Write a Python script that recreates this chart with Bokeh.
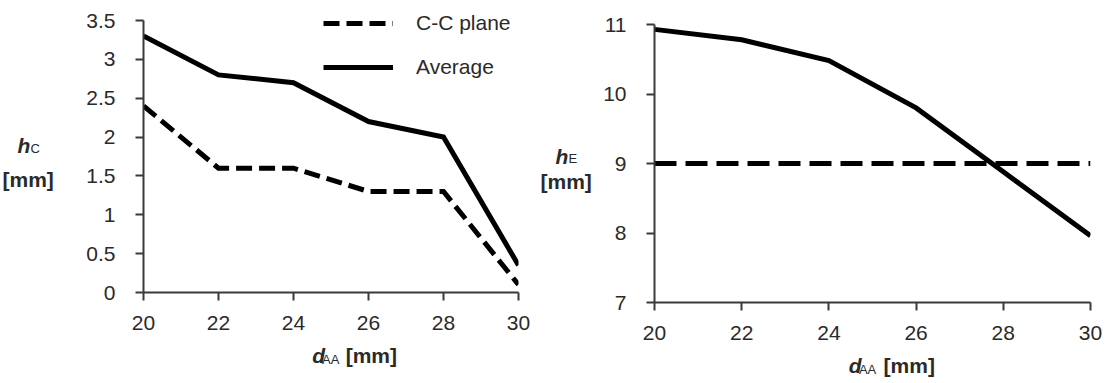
from bokeh.plotting import figure
from bokeh.layouts import row, column
from bokeh.models import Range1d, FixedTicker, Label, Legend, LegendItem
from bokeh.embed import file_html
from bokeh.resources import INLINE

# ---------------- data ----------------
d_aa = [20, 22, 24, 26, 28, 30]
hc_cc_plane = [2.4, 1.6, 1.6, 1.3, 1.3, 0.1]
hc_average = [3.3, 2.8, 2.7, 2.2, 2.0, 0.35]
he_values = [10.93, 10.78, 10.48, 9.8, 8.88, 7.96]
he_limit_x = [20, 30]
he_limit_y = [9, 9]

x_ticks = [20, 22, 24, 26, 28, 30]
x_tick_labels = ["20", "22", "24", "26", "28", "30"]
hc_ticks = [0, 0.5, 1, 1.5, 2, 2.5, 3, 3.5]
hc_tick_labels = ["0", "0.5", "1", "1.5", "2", "2.5", "3", "3.5"]
he_ticks = [7, 8, 9, 10, 11]
he_tick_labels = ["7", "8", "9", "10", "11"]

FONT = "Liberation Sans"
AXIS_COLOR = "#3a3a3a"
TEXT_COLOR = "#2a2a2a"
H = 383
DY = 7  # baseline correction for labels


def style(p, yt, ytl, ybounds):
    p.xgrid.visible = False
    p.ygrid.visible = False
    p.outline_line_color = None
    p.background_fill_color = "white"
    p.border_fill_color = "white"
    for ax, ticks, labels in ((p.xaxis[0], x_ticks, x_tick_labels), (p.yaxis[0], yt, ytl)):
        ax.ticker = FixedTicker(ticks=ticks)
        ax.major_label_overrides = {float(t): l for t, l in zip(ticks, labels)}
        ax.axis_line_color = AXIS_COLOR
        ax.axis_line_width = 2
        ax.major_tick_line_color = AXIS_COLOR
        ax.major_tick_line_width = 2
        ax.major_tick_in = 0
        ax.major_tick_out = 8
        ax.minor_tick_line_color = None
        ax.major_label_text_font = FONT
        ax.major_label_text_font_size = "21px"
        ax.major_label_text_color = TEXT_COLOR
        ax.axis_label = None
    p.yaxis[0].bounds = ybounds
    p.xaxis[0].major_label_standoff = 15
    p.yaxis[0].major_label_standoff = 20


def text_fig(w, h):
    f = figure(width=w, height=h, x_range=Range1d(0, w), y_range=Range1d(0, h),
               x_axis_type=None, y_axis_type=None, min_border=0,
               output_backend="svg", toolbar_location=None)
    f.outline_line_color = None
    f.background_fill_color = "white"
    f.border_fill_color = "white"
    return f


def add_text(f, x, y, text, size, style_):
    f.add_layout(Label(x=x, y=y + DY, text=text, text_font=FONT, text_font_size=size,
                       text_font_style=style_, text_color=TEXT_COLOR,
                       text_baseline="alphabetic", text_align="left"))


# ---------------- left panel ----------------
p1 = figure(width=460, height=344, x_range=Range1d(20, 30), y_range=Range1d(0, 3.6416),
            output_backend="svg", toolbar_location=None,
            min_border_left=65, min_border_right=20, min_border_top=9, min_border_bottom=52)
style(p1, hc_ticks, hc_tick_labels, (0, 3.5))

r_cc = p1.line(d_aa, hc_cc_plane, line_width=5, line_color="black", line_dash="16 7", line_join="miter")
r_avg = p1.line(d_aa, hc_average, line_width=5, line_color="black", line_join="miter")

legend = Legend(items=[LegendItem(label="C-C plane", renderers=[r_cc]),
                       LegendItem(label="Average", renderers=[r_avg])],
                location=(180, 213), orientation="vertical",
                label_text_font=FONT, label_text_font_size="21px", label_text_color=TEXT_COLOR,
                glyph_width=70, glyph_height=24, label_height=24, label_standoff=23,
                spacing=20, padding=0, margin=0,
                border_line_color=None, background_fill_alpha=0)
p1.add_layout(legend)

ylab1 = text_fig(78, H)
add_text(ylab1, 17, 231, "h", "21px", "bold italic")
add_text(ylab1, 30, 228, "C", "13px", "normal")
add_text(ylab1, 2, 197.4, "[mm]", "21px", "bold")

xlab1 = text_fig(460, H - 344)
add_text(xlab1, 207, 20.7, "d", "21px", "bold italic")
add_text(xlab1, 219, 17, "AA", "13px", "normal")
add_text(xlab1, 248, 20.7, "[mm]", "21px", "bold")

# ---------------- right panel ----------------
p2 = figure(width=512, height=352, x_range=Range1d(20, 30), y_range=Range1d(7, 11),
            output_backend="svg", toolbar_location=None,
            min_border_left=54, min_border_right=22, min_border_top=24, min_border_bottom=50)
style(p2, he_ticks, he_tick_labels, (7, 11))

p2.line(he_limit_x, he_limit_y, line_width=5, line_color="black", line_dash="22 9")
p2.line(d_aa, he_values, line_width=5, line_color="black", line_join="miter")

ylab2 = text_fig(62, H)
add_text(ylab2, 17, 220, "h", "21px", "bold italic")
add_text(ylab2, 30, 218, "E", "13px", "normal")
add_text(ylab2, 2, 195.4, "[mm]", "21px", "bold")

xlab2 = text_fig(512, H - 352)
add_text(xlab2, 228, 11, "d", "21px", "bold italic")
add_text(xlab2, 240, 7.5, "AA", "13px", "normal")
add_text(xlab2, 269, 11, "[mm]", "21px", "bold")

layout = row(ylab1, column(p1, xlab1, spacing=0), ylab2, column(p2, xlab2, spacing=0), spacing=0)
open("out.html", "w").write(file_html(layout, INLINE))
